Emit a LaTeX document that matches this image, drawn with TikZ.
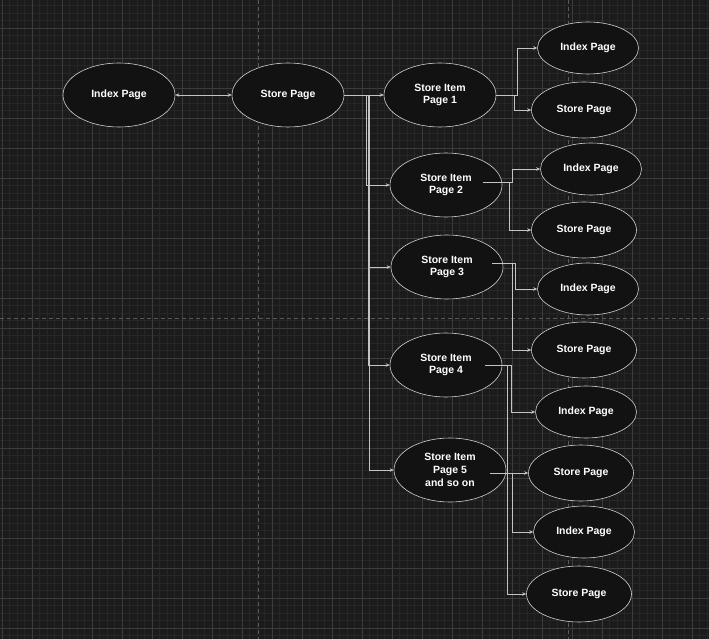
\documentclass[tikz,border=0pt]{standalone}
\usepackage{xcolor}
\usepackage{fontspec}
\setmainfont{Liberation Sans}
\usepackage{tikz}
\usetikzlibrary{shapes.geometric, arrows.meta, positioning}
\definecolor{canvas}{HTML}{1B1B1B}
\definecolor{minorline}{HTML}{262626}
\definecolor{majorline}{HTML}{3C3C3C}
\definecolor{pageline}{HTML}{5A5A5A}
\definecolor{nodefill}{HTML}{121212}
\definecolor{edgegray}{HTML}{D0D0D0}
\definecolor{linkgray}{HTML}{C4C4C4}
\tikzstyle{page}     = [ellipse, draw=edgegray, fill=nodefill, text=white, align=center,
                         inner sep=0pt, line width=0.6pt,
                         font=\bfseries\fontsize{10.5}{12.8}\selectfont]
\tikzstyle{bigpage}  = [page, minimum width=112pt, minimum height=64pt]
\tikzstyle{idxpage}  = [page, minimum width=101pt, minimum height=52pt]
\tikzstyle{shoppage} = [page, minimum width=105pt, minimum height=56pt]
\tikzstyle{arrow}    = [-{Stealth[length=4pt, width=3.5pt]}, draw=linkgray, line width=0.7pt]
\tikzstyle{biarrow}  = [{Stealth[length=4pt, width=3.5pt]}-{Stealth[length=4pt, width=3.5pt]},
                         draw=linkgray, line width=0.7pt]
\begin{document}
\begin{tikzpicture}[x=1pt, y=-1pt]
  % Canvas and grid
  \fill[canvas] (0,0) rectangle (709,639);
  \useasboundingbox (0,0) rectangle (709,639);
  \foreach \x in {2,9.5,...,709} \draw[minorline, line width=0.5pt] (\x,0) -- (\x,639);
  \foreach \y in {5.5,13,...,639} \draw[minorline, line width=0.5pt] (0,\y) -- (709,\y);
  \foreach \x in {2,32,...,709} \draw[majorline, line width=0.6pt] (\x,0) -- (\x,639);
  \foreach \y in {28,58,...,639} \draw[majorline, line width=0.6pt] (0,\y) -- (709,\y);
  \draw[pageline, line width=1pt, dash pattern=on 4pt off 3pt] (258,0) -- (258,639);
  \draw[pageline, line width=1pt, dash pattern=on 4pt off 3pt] (568,0) -- (568,639);
  \draw[pageline, line width=1pt, dash pattern=on 4pt off 3pt] (0,318) -- (709,318);

  % Main pages
  \node[bigpage] (index) at (119,95) {Index Page};
  \node[bigpage] (store) at (288,95) {Store Page};

  % Store item pages
  \node[bigpage] (item1) at (440,95)  {Store Item\\Page 1};
  \node[bigpage] (item2) at (446,185) {Store Item\\Page 2};
  \node[bigpage] (item3) at (447,267) {Store Item\\Page 3};
  \node[bigpage] (item4) at (446,365) {Store Item\\Page 4};
  \node[bigpage] (item5) at (450,470) {Store Item\\Page 5\\and so on};

  % Linked pages
  \node[idxpage]  (idxA)   at (588,48)  {Index Page};
  \node[shoppage] (storeA) at (584,110) {Store Page};
  \node[idxpage]  (idxB)   at (591,169) {Index Page};
  \node[shoppage] (storeB) at (584,230) {Store Page};
  \node[idxpage]  (idxC)   at (588,289) {Index Page};
  \node[shoppage] (storeC) at (584,350) {Store Page};
  \node[idxpage]  (idxD)   at (586,412) {Index Page};
  \node[shoppage] (storeD) at (581,473) {Store Page};
  \node[idxpage]  (idxE)   at (584,532) {Index Page};
  \node[shoppage] (storeE) at (579,594) {Store Page};

  % Arrows — Index and Store
  \draw[biarrow] (index.east) -- (store.east -| store.west);
  \draw[arrow] (store.east) -- (item1.west);
  \draw[arrow] (store.east) -- ++(22,0) |- (item2.west);
  \draw[arrow] (store.east) -- ++(24,0) |- (item3.west);
  \draw[arrow] (store.east) -- ++(24,0) |- (item4.west);
  \draw[arrow] (store.east) -- ++(25,0) |- (item5.west);

  % Arrows — Item 1
  \draw[arrow] (item1.east) -- ++(21,0) |- (idxA.west);
  \draw[arrow] (item1.east) -- ++(18,0) |- (storeA.west);

  % Arrows — Item 2
  \draw[arrow] (item2.center) ++(37,-3) -- ++(29,0) |- (idxB.west);
  \draw[arrow] (item2.center) ++(37,-3) -- ++(26,0) |- (storeB.west);

  % Arrows — Item 3
  \draw[arrow] (item3.center) ++(45,-4) -- ++(23,0) |- (idxC.west);
  \draw[arrow] (item3.center) ++(45,-4) -- ++(20,0) |- (storeC.west);

  % Arrows — Item 4
  \draw[arrow] (item4.center) ++(39,0) -- ++(26,0) |- (idxD.west);
  \draw[arrow] (item4.center) ++(39,0) -- ++(22,0) |- (storeE.west);

  % Arrows — Item 5
  \draw[arrow] (item5.center) ++(40,3) -- (storeD.west);
  \draw[arrow] (item5.center) ++(40,3) -- ++(22,0) |- (idxE.west);
\end{tikzpicture}
\end{document}
